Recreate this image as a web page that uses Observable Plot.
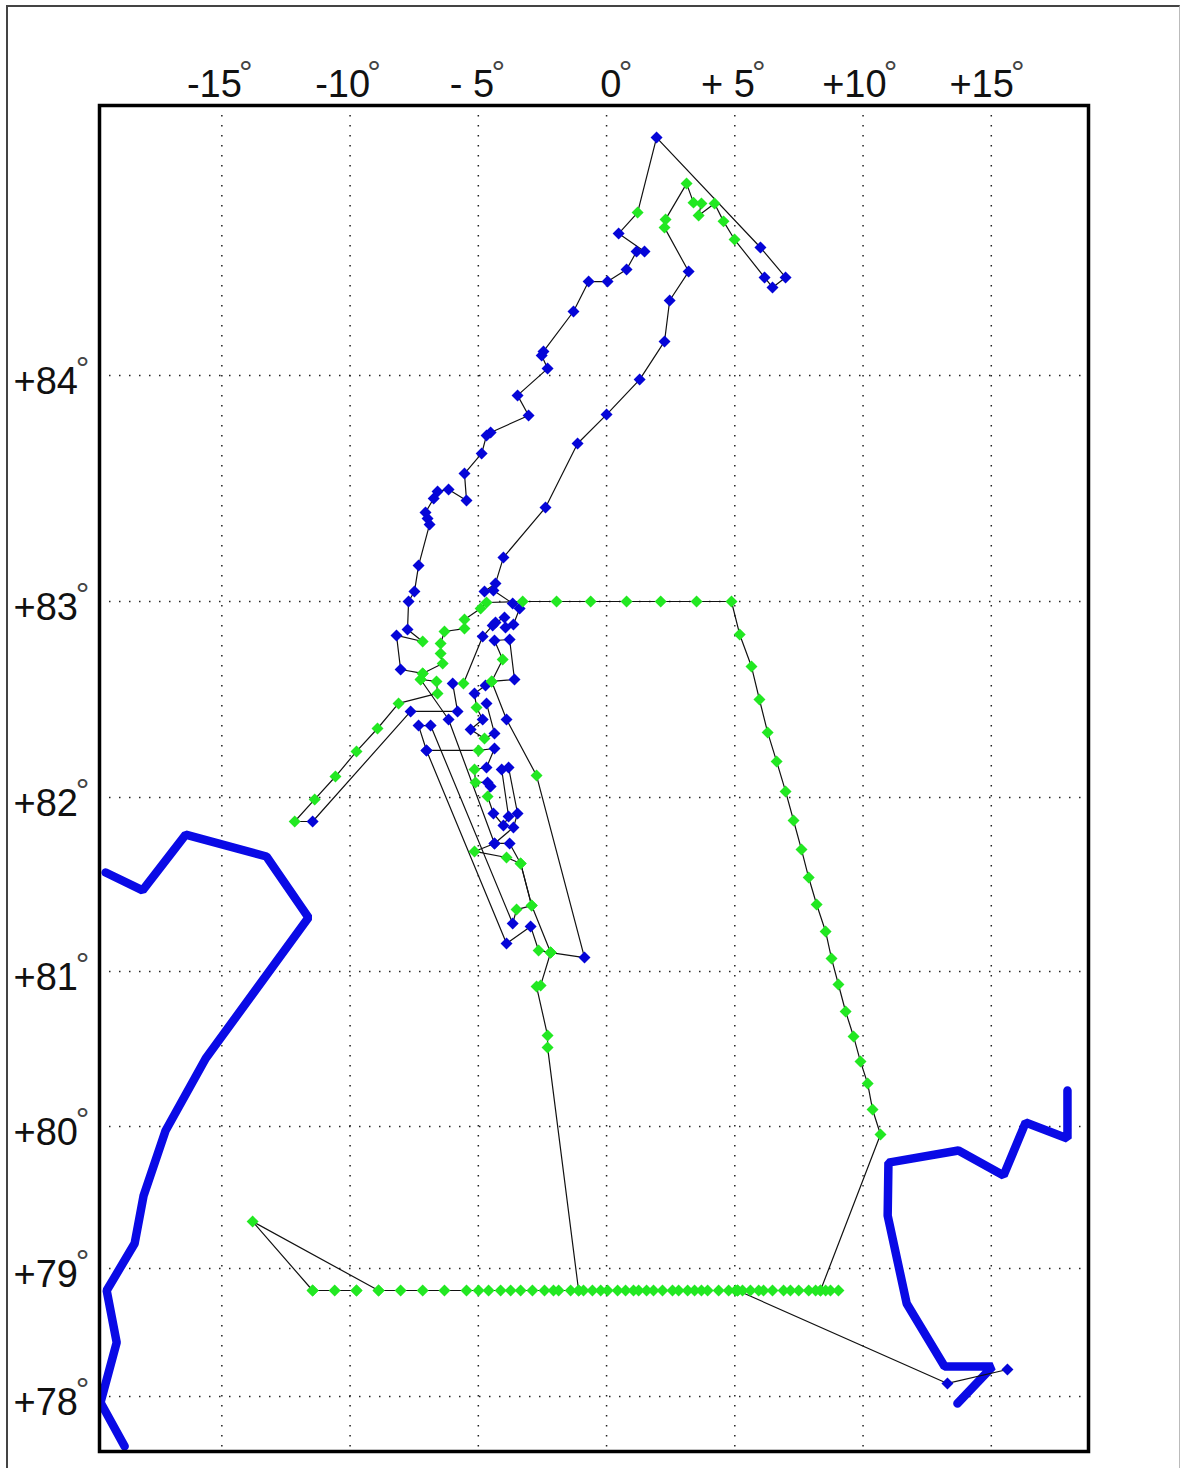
<!DOCTYPE html>
<html><head><meta charset="utf-8">
<script src="https://cdn.jsdelivr.net/npm/d3@7"></script>
<script src="https://cdn.jsdelivr.net/npm/@observablehq/plot@0.6"></script>
<style>
html,body{margin:0;padding:0;background:#fff;overflow:hidden}
#chart{position:absolute;left:0;top:0;width:1180px;height:1468px}
#chart svg{position:absolute;left:0;top:0;background:transparent}
#edge{position:absolute;left:6px;top:5px;width:1171px;height:1480px;border-left:2px solid #444;border-top:2px solid #444;border-right:1px solid #bbb;box-sizing:content-box}
</style></head><body>
<div id="edge"></div><div id="chart"></div>
<script>
const lonTicks = [-15,-10,-5,0,5,10,15];
const lonLabels = ["-15","-10","- 5","0","+ 5","+10","+15"];
const lonLabelNudge = [0,0,-0.16,-0.2,0,0.14,0.1];
const latTicks = [78,79,80,81,82,83,84];
const latLabels = ["+78","+79","+80","+81","+82","+83","+84"];
const stationLat = 78.828;
const stationLons = [-11.46,-10.60,-9.75,-8.89,-8.03,-7.17,-6.32,-5.46,-4.99,-4.60,-4.13,-3.74,-3.35,-2.89,-2.42,-2.07,-1.87,-1.40,-1.09,-0.90,-0.55,-0.23,0.04,0.43,0.74,1.05,1.25,1.56,1.83,2.18,2.57,2.81,3.16,3.43,3.70,3.94,4.37,4.76,5.03,5.30,5.61,5.93,6.12,6.47,6.90,7.17,7.49,7.88,8.15,8.34,8.54,8.73,9.04];
const coastWest = [[-19.53,81.569],[-18.09,81.466],[-16.41,81.787],[-13.26,81.661],[-11.62,81.310],[-15.63,80.439],[-17.19,79.972],[-18.05,79.514],[-18.40,79.176],[-19.49,78.828],[-19.10,78.422],[-19.73,77.953],[-18.79,77.61]];
const coastEast = [[17.97,80.232],[17.97,79.915],[16.34,80.026],[15.48,79.655],[13.72,79.831],[10.99,79.746],[10.96,79.373],[11.70,78.727],[13.18,78.234],[15.05,78.234],[13.68,77.945]];
// track legs: [lon, lat, "b"|"g"]
const leg1 = [[15.63,78.211,"b"],[13.29,78.102,"b"],[5.11,78.828,"g"],[-8.89,78.828,"g"],[-13.80,79.331,"g"],[-11.46,78.828,"g"],[-9.75,78.828,"g"]];
const leg2 = [[5.11,78.828,"g"],[8.34,78.828,"g"],[10.68,79.944,"g"],[10.37,80.110,"g"],[10.18,80.277,"g"],[9.90,80.419,"g"],[9.63,80.581,"g"],[9.32,80.742,"g"],[9.04,80.916,"g"],[8.77,81.075,"g"],[8.54,81.230,"g"],[8.19,81.385,"g"],[7.88,81.540,"g"],[7.60,81.701,"g"],[7.29,81.868,"g"],[6.98,82.031,"g"],[6.63,82.184,"g"],[6.28,82.332,"g"],[5.96,82.5,"g"],[5.65,82.668,"g"],[5.19,82.832,"g"],[4.87,83,"g"],[3.51,83,"g"],[2.11,83,"g"],[0.78,83,"g"],[-0.62,83,"g"],[-1.95,83,"g"],[-3.27,83,"g"],[-4.68,82.995,"g"],[-4.91,82.964,"g"],[-5.54,82.908,"g"],[-5.54,82.862,"g"],[-6.32,82.847,"g"],[-6.47,82.786,"g"],[-6.47,82.735,"g"],[-6.39,82.684,"g"],[-7.17,82.633,"g"],[-7.25,82.602,"g"],[-6.63,82.592,"g"],[-6.59,82.531,"g"],[-8.11,82.480,"g"],[-8.93,82.352,"g"],[-9.75,82.235,"g"],[-10.57,82.107,"g"],[-11.38,81.989,"g"],[-12.16,81.862,"g"],[-11.46,81.862,"b"],[-7.64,82.439,"b"],[-5.81,82.439,"b"],[-6.00,82.582,"b"]];
const leg3 = [[-5.58,82.582,"g"],[-4.83,82.821,"b"],[-4.44,82.878,"b"],[-4.33,82.893,"b"],[-3.98,82.918,"b"],[-3.94,82.867,"b"],[-3.63,82.883,"b"],[-3.39,82.964,"b"],[-3.66,82.990,"b"],[-4.41,83.049,"b"],[-4.76,83.044,"b"],[-4.33,83.080,"b"],[-4.02,83.195,"b"],[-2.38,83.416,"b"],[-1.13,83.699,"b"],[0.00,83.827,"b"],[1.29,83.982,"b"],[2.26,84.133,"b"],[2.46,84.293,"b"],[3.20,84.406,"b"],[2.26,84.570,"g"],[2.30,84.599,"g"],[3.12,84.725,"g"],[3.39,84.658,"g"],[3.70,84.655,"g"],[3.59,84.613,"g"],[4.21,84.655,"g"],[4.56,84.592,"g"],[4.99,84.528,"g"],[6.16,84.383,"b"],[6.47,84.344,"b"],[6.98,84.383,"b"],[6.00,84.5,"b"],[1.95,84.887,"b"],[1.21,84.623,"g"],[0.47,84.549,"b"],[1.48,84.484,"b"],[1.17,84.484,"b"],[0.78,84.414,"b"],[0.04,84.367,"b"],[-0.70,84.367,"b"],[-1.29,84.25,"b"],[-2.46,84.094,"b"],[-2.53,84.078,"b"],[-2.30,84.027,"b"],[-3.47,83.912,"b"],[-3.04,83.823,"b"],[-4.52,83.748,"b"],[-4.68,83.735,"b"],[-4.87,83.655,"b"],[-5.54,83.566,"b"],[-5.46,83.447,"b"],[-6.16,83.496,"b"],[-6.59,83.487,"b"],[-6.74,83.456,"b"],[-7.06,83.394,"b"],[-6.98,83.367,"b"],[-6.90,83.341,"b"],[-7.33,83.159,"b"],[-7.49,83.044,"b"],[-7.72,83,"b"],[-7.76,82.857,"b"],[-7.17,82.796,"g"],[-8.19,82.827,"b"],[-8.03,82.653,"b"],[-7.17,82.633,"g"]];
const leg4 = [[-4.68,82.480,"b"],[-4.37,82.327,"b"],[-4.76,82.301,"g"],[-5.30,82.347,"b"],[-4.83,82.398,"b"],[-5.07,82.459,"g"],[-5.15,82.531,"b"],[-4.72,82.571,"b"],[-4.48,82.592,"g"],[-3.59,82.602,"b"],[-3.78,82.806,"b"],[-4.37,82.801,"b"],[-4.05,82.704,"g"],[-4.48,82.592,"g"],[-3.90,82.398,"b"],[-2.73,82.112,"g"],[-0.86,81.080,"b"],[-2.18,81.109,"g"],[-2.57,80.910,"g"],[-2.73,80.903,"g"],[-2.30,80.587,"g"],[-2.30,80.510,"g"],[-1.09,78.828,"g"]];
const leg5 = [[-7.25,82.602,"g"],[-6.16,82.398,"b"],[-4.37,81.736,"b"],[-3.78,81.736,"b"],[-3.35,81.621,"g"],[-2.92,81.379,"g"],[-2.18,81.109,"g"]];
const leg6 = [[-7.02,82.240,"b"],[-4.99,82.240,"g"],[-4.37,82.25,"b"],[-4.68,82.153,"b"],[-5.15,82.143,"g"],[-5.11,82.077,"g"],[-4.64,82.077,"b"],[-4.52,82.056,"b"],[-4.64,82.005,"g"],[-4.41,81.908,"b"],[-4.02,81.839,"b"],[-3.82,81.891,"b"],[-4.09,82.143,"b"],[-3.82,82.153,"b"],[-3.47,81.908,"b"],[-3.63,81.828,"b"],[-4.37,81.736,"b"],[-5.15,81.690,"g"],[-3.90,81.655,"g"],[-3.35,81.621,"g"],[-2.92,81.379,"g"],[-3.51,81.356,"g"],[-3.66,81.276,"b"],[-6.86,82.367,"b"],[-7.33,82.367,"b"],[-7.02,82.240,"b"],[-3.90,81.161,"b"],[-2.96,81.259,"b"],[-2.65,81.121,"g"],[-2.18,81.109,"g"]];

const legs = [leg1,leg2,leg3,leg4,leg5,leg6];
const track = legs.flatMap((leg,i)=>leg.map(([lon,lat,kind])=>({lon,lat,kind,leg:i})));
const stations = stationLons.map(lon=>({lon,lat:stationLat,kind:"g"}));
const blues = track.filter(d=>d.kind==="b");
const greens = track.filter(d=>d.kind==="g").concat(stations);
const coast = d3.merge([coastWest.map(c=>({lon:c[0],lat:c[1],c:"w"})),coastEast.map(c=>({lon:c[0],lat:c[1],c:"e"}))]);

// the map's stretched latitude axis, read from its graticule
const projectLat = d3.scaleLinear()
  .domain([77.57,78,79,80,81,82,83,84,84.5,85])
  .range([1451,1396,1268,1126,971,797,601,375,247,105]);

const labelFont = {fontFamily:"Liberation Sans, Arial, sans-serif",fontSize:38,fill:"#111"};
const chart = Plot.plot({
  width:1180,height:1468,
  marginLeft:99,marginRight:92,marginTop:105,marginBottom:17,
  x:{domain:[-19.77,18.79],axis:null},
  y:{transform:projectLat,domain:[1451,105],range:[1451,105],axis:null},
  style:{background:"transparent"},
  marks:[
    Plot.ruleX(lonTicks,{x:d=>d,stroke:"#222",strokeWidth:1.5,strokeDasharray:"1.5,8.5"}),
    Plot.ruleY(latTicks,{y:d=>d,stroke:"#222",strokeWidth:1.5,strokeDasharray:"1.5,8.5"}),
    Plot.line(coast,{x:"lon",y:"lat",z:"c",stroke:"#0a0ae6",strokeWidth:8.5,strokeLinejoin:"miter",clip:true}),
    Plot.line(track,{x:"lon",y:"lat",z:"leg",stroke:"#111",strokeWidth:1.2}),
    Plot.dot(blues,{x:"lon",y:"lat",symbol:"diamond2",r:5.4,fill:"#0505d8",stroke:"none"}),
    Plot.dot(greens,{x:"lon",y:"lat",symbol:"diamond2",r:5.4,fill:"#22e822",stroke:"none"}),
    Plot.frame({stroke:"#000",strokeWidth:3.5}),
    Plot.text(lonTicks,{x:(d,i)=>d+lonLabelNudge[i],y:()=>85,text:(d,i)=>lonLabels[i],textAnchor:"end",dx:20,dy:-21,...labelFont}),
    Plot.text(lonTicks,{x:(d,i)=>d+lonLabelNudge[i],y:()=>85,text:()=>"°",textAnchor:"middle",dx:24,dy:-32,...labelFont,fontSize:34,fill:"#444"}),
    Plot.text(latTicks,{x:()=>-19.77,y:d=>d,text:(d,i)=>latLabels[i],textAnchor:"start",dx:-86,dy:6,...labelFont}),
    Plot.text(latTicks,{x:()=>-19.77,y:d=>d,text:()=>"°",textAnchor:"middle",dx:-17,dy:-6,...labelFont,fontSize:34,fill:"#444"})
  ]
});
document.getElementById("chart").append(chart);
</script>
</body></html>
